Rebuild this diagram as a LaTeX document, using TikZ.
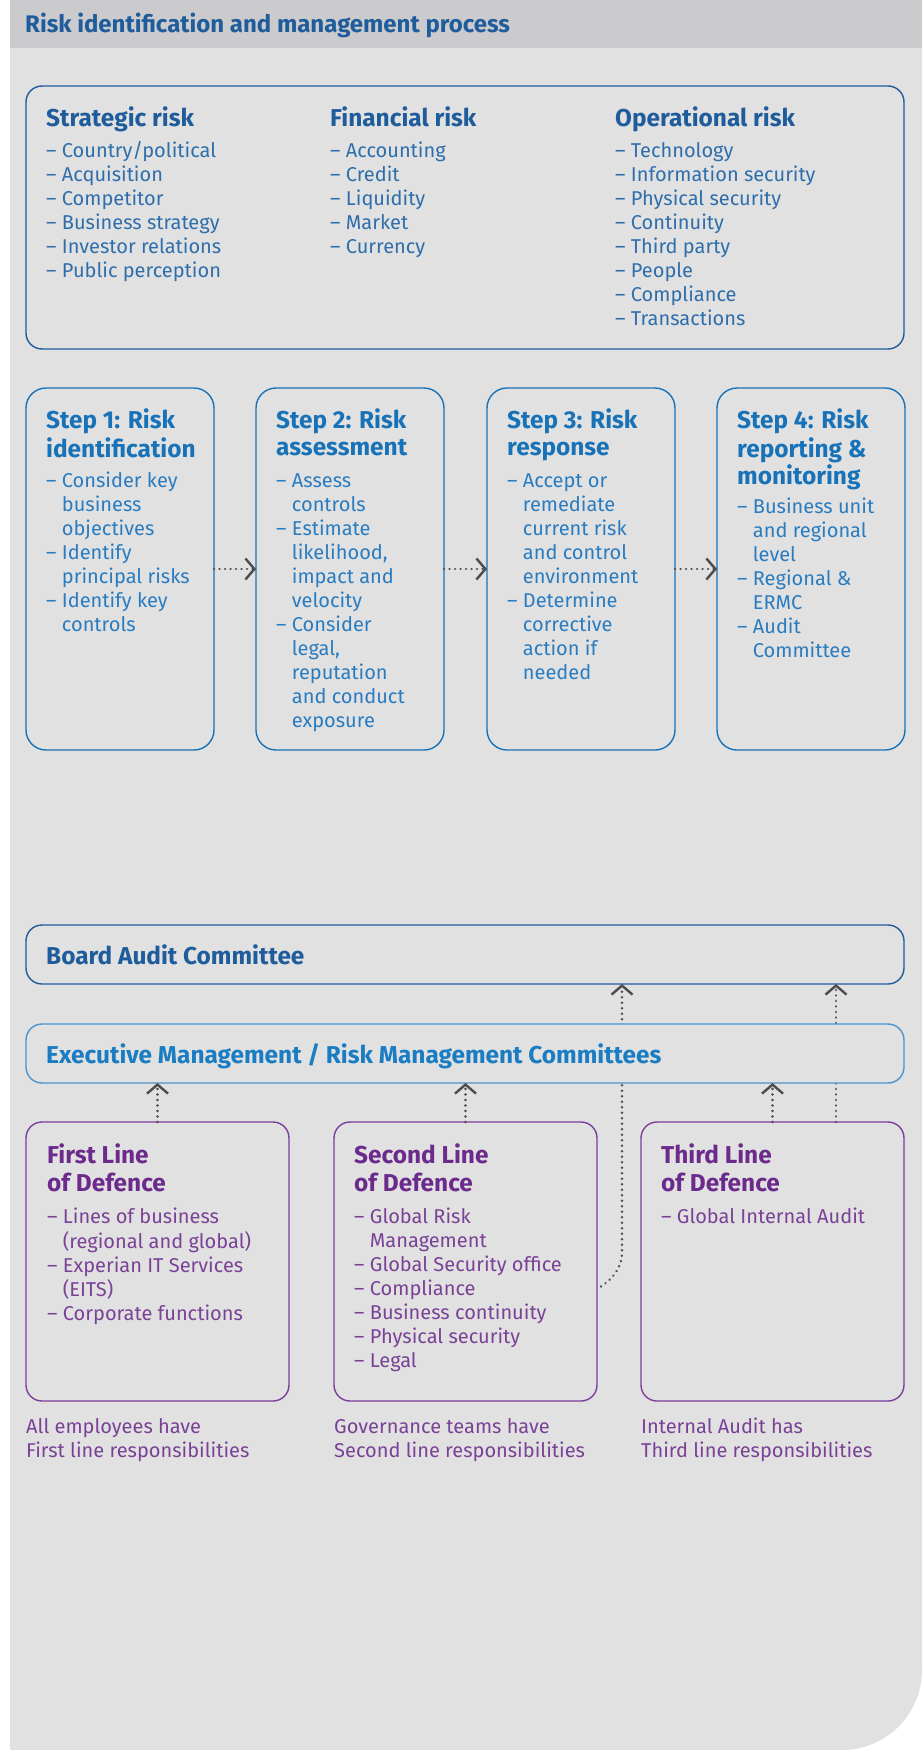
\documentclass[tikz,border=0pt]{standalone}
\usepackage{fontspec}
\setmainfont{Fira Sans}
\usetikzlibrary{positioning, arrows.meta, calc}

\definecolor{panelgray}{HTML}{E1E1E1}
\definecolor{headgray}{HTML}{CBCBCD}
\definecolor{darkblue}{HTML}{1F5C9C}
\definecolor{midblue}{HTML}{2E6EAB}
\definecolor{stepblue}{HTML}{1872B8}
\definecolor{steptext}{HTML}{2A7CC0}
\definecolor{execblue}{HTML}{1A7CC2}
\definecolor{execline}{HTML}{4A93CE}
\definecolor{defpurple}{HTML}{6B2A8C}
\definecolor{linepurple}{HTML}{7B3E9B}
\definecolor{textpurple}{HTML}{7A4296}
\definecolor{arrowgray}{HTML}{4D4D4D}

% continuation line of a list item
\newcommand{\ind}{\phantom{–\ }}

\begin{document}
\begin{tikzpicture}[x=1pt, y=-1pt, font=\fontsize{20}{24}\selectfont,
    rbox/.style={draw, line width=1.4pt, rounded corners=16pt, fill=panelgray, inner sep=0pt, outer sep=0pt, anchor=north west},
    head/.style={anchor=north west, inner sep=0pt, align=left, font=\bfseries\fontsize{24.4}{27}\selectfont},
    items/.style={anchor=north west, inner sep=0pt, align=left, font=\fontsize{20}{24}\selectfont},
    flow/.style={arrowgray, line width=2.6pt, line cap=round, dash pattern=on 0.1pt off 5.4pt,
        -{Straight Barb[length=9pt, width=21pt, line width=2.4pt]}}]

    % 0. Pozadi
    \useasboundingbox (0,0) rectangle (922,1750);
    \fill[white] (0,0) rectangle (922,1750);
    \fill[panelgray] (10,0) -- (922,0) -- (922,1670) arc[start angle=0, end angle=-90, radius=80pt] -- (10,1750) -- cycle;
    \fill[headgray] (10,0) rectangle (922,48);
    \node[anchor=base west, inner sep=0pt, font=\bfseries\fontsize{24}{26}\selectfont, text=darkblue] (title) at (25,33)
        {Risk identification and management process};

    % 1. Druhy rizik
    \node[rbox, draw=darkblue, minimum width=878, minimum height=263] (risks) at (26,86) {};

    \node[head, text=darkblue] (strathead) at ($(risks.north west)+(20,21)$) {\strut Strategic risk};
    \node[items, text=midblue] (stratlist) at ($(risks.north west)+(20,54)$)
        {\strut– Country/political\\– Acquisition\\– Competitor\\– Business strategy\\– Investor relations\\– Public perception};

    \node[head, text=darkblue] (finhead) at ($(risks.north west)+(304,21)$) {\strut Financial risk};
    \node[items, text=midblue] (finlist) at ($(risks.north west)+(304,54)$)
        {\strut– Accounting\\– Credit\\– Liquidity\\– Market\\– Currency};

    \node[head, text=darkblue] (ophead) at ($(risks.north west)+(589,21)$) {\strut Operational risk};
    \node[items, text=midblue] (oplist) at ($(risks.north west)+(589,54)$)
        {\strut– Technology\\– Information security\\– Physical security\\– Continuity\\– Third party\\– People\\– Compliance\\– Transactions};

    % 2. Kroky procesu
    \foreach \i/\bx in {1/26, 2/256, 3/487, 4/717} {
        \node[rbox, draw=stepblue, rounded corners=20pt, minimum width=188, minimum height=362] (step\i) at (\bx,388) {};
    }
    \foreach \i/\j in {1/2, 2/3, 3/4} {
        \draw[flow] (step\i.east) -- (step\j.west);
    }

    \node[head, text=stepblue] (s1head) at ($(step1.north west)+(20,21)$) {\strut Step 1: Risk\\identification};
    \node[items, text=steptext] (s1list) at ($(step1.north west)+(20,82)$)
        {\strut– Consider key\\\ind business\\\ind objectives\\– Identify\\\ind principal risks\\– Identify key\\\ind controls};

    \node[head, text=stepblue] (s2head) at ($(step2.north west)+(20,21)$) {\strut Step 2: Risk\\assessment};
    \node[items, text=steptext] (s2list) at ($(step2.north west)+(20,82)$)
        {\strut– Assess\\\ind controls\\– Estimate\\\ind likelihood,\\\ind impact and\\\ind velocity\\– Consider\\\ind legal,\\\ind reputation\\\ind and conduct\\\ind exposure};

    \node[head, text=stepblue] (s3head) at ($(step3.north west)+(20,21)$) {\strut Step 3: Risk\\response};
    \node[items, text=steptext] (s3list) at ($(step3.north west)+(20,82)$)
        {\strut– Accept or\\\ind remediate\\\ind current risk\\\ind and control\\\ind environment\\– Determine\\\ind corrective\\\ind action if\\\ind needed};

    \node[head, text=stepblue] (s4head) at ($(step4.north west)+(20,21)$) {\strut Step 4: Risk\\reporting \&\\monitoring};
    \node[items, text=steptext] (s4list) at ($(step4.north west)+(20,108)$)
        {\strut– Business unit\\\ind and regional\\\ind level\\– Regional \&\\\ind ERMC\\– Audit\\\ind Committee};

    % 3. Linie obrany
    \node[rbox, draw=darkblue, minimum width=878, minimum height=59] (board) at (26,925) {};
    \foreach \i/\bx in {1/26, 2/334, 3/641} {
        \node[rbox, draw=linepurple, minimum width=263, minimum height=279] (def\i) at (\bx,1122) {};
    }

    % dlouhe sipky az k vyboru (vedou za boxem vedeni)
    \coordinate (bend) at ($(def2.east)+(25,-8)$);
    \draw[flow] ($(def2.east)+(4,25)$) .. controls ($(def2.east)+(15,18)$) and ($(def2.east)+(25,6)$) .. (bend)
        -- (bend |- board.south);
    \draw[flow] ($(def3.north east)+(-68,0)$) -- ($(board.south east)+(-68,0)$);

    \node[rbox, draw=execline, minimum width=878, minimum height=59] (exec) at (26,1024) {};

    \node[anchor=base west, inner sep=0pt, font=\bfseries\fontsize{24.4}{27}\selectfont, text=darkblue] (boardlbl)
        at ($(board.west)+(20,9.5)$) {Board Audit Committee};
    \node[anchor=base west, inner sep=0pt, font=\bfseries\fontsize{24.4}{27}\selectfont, text=execblue] (execlbl)
        at ($(exec.west)+(20,9.5)$) {Executive Management / Risk Management Committees};

    \foreach \i in {1,2,3} {
        \draw[flow] (def\i.north) -- (def\i.north |- exec.south);
    }

    \node[head, text=defpurple, font=\bfseries\fontsize{24.4}{28}\selectfont] (d1head) at ($(def1.north west)+(21,21)$) {\strut First Line\\of Defence};
    \node[items, text=textpurple] (d1list) at ($(def1.north west)+(21,84)$)
        {\strut– Lines of business\\\ind (regional and global)\\– Experian IT Services\\\ind (EITS)\\– Corporate functions};

    \node[head, text=defpurple, font=\bfseries\fontsize{24.4}{28}\selectfont] (d2head) at ($(def2.north west)+(20,21)$) {\strut Second Line\\of Defence};
    \node[items, text=textpurple] (d2list) at ($(def2.north west)+(20,84)$)
        {\strut– Global Risk\\\ind Management\\– Global Security office\\– Compliance\\– Business continuity\\– Physical security\\– Legal};

    \node[head, text=defpurple, font=\bfseries\fontsize{24.4}{28}\selectfont] (d3head) at ($(def3.north west)+(20,21)$) {\strut Third Line\\of Defence};
    \node[items, text=textpurple] (d3list) at ($(def3.north west)+(20,84)$)
        {\strut– Global Internal Audit};

    % popisky pod boxy
    \node[items, text=textpurple] (d1note) at ($(def1.south west)+(0,15)$) {\strut All employees have\\First line responsibilities};
    \node[items, text=textpurple] (d2note) at ($(def2.south west)+(0,15)$) {\strut Governance teams have\\Second line responsibilities};
    \node[items, text=textpurple] (d3note) at ($(def3.south west)+(0,15)$) {\strut Internal Audit has\\Third line responsibilities};

\end{tikzpicture}
\end{document}
